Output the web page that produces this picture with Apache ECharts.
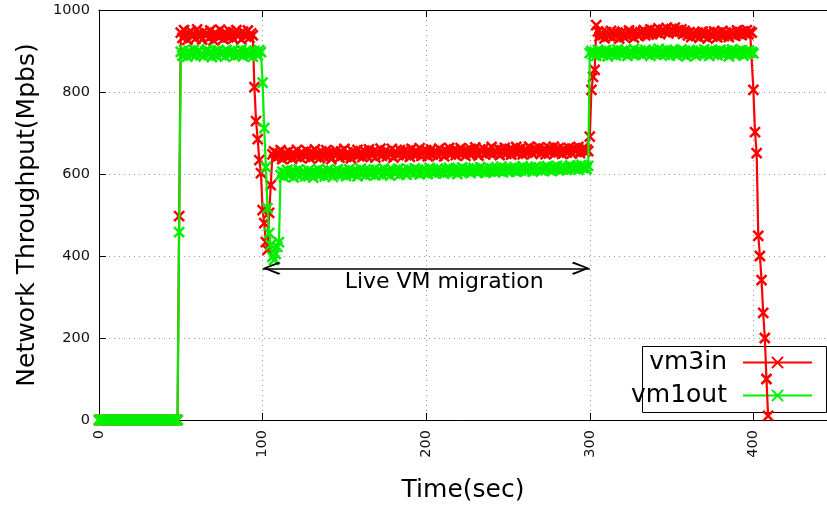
<!DOCTYPE html>
<html>
<head>
<meta charset="utf-8">
<script src="https://cdn.jsdelivr.net/npm/echarts@6/dist/echarts.min.js"></script>
<style>
  html, body { margin: 0; padding: 0; background: #fff; }
  #chart { width: 827px; height: 508px; }
</style>
</head>
<body>
<div id="chart"></div>
<script>
// Throughput samples, one per second starting at t = 0
const SAMPLE_PERIOD = 1;

const vm3in = [
  0, 0, 0, 0, 0, 0, 0, 0, 0, 0, 0, 0, 0, 0, 0, 0, 0, 0, 0, 0,
  0, 0, 0, 0, 0, 0, 0, 0, 0, 0, 0, 0, 0, 0, 0, 0, 0, 0, 0, 0,
  0, 0, 0, 0, 0, 0, 0, 0, 0,
  497,
  945, 932, 951, 938, 927, 944, 949, 935, 940, 930,
  953, 941, 936, 928, 947, 939, 943, 931, 950, 937,
  926, 945, 940, 934, 952, 938, 929, 946, 942, 933,
  948, 937, 930, 944, 951, 936, 941, 928, 947, 939,
  935, 950, 932, 943, 938,
  812, 729, 685, 634, 602, 512, 480, 434, 415, 505, 573,
  648, 655, 639, 651, 644, 658, 636, 647, 652, 641, 656, 645, 637, 650, 643, 659, 646, 640, 653, 648,
  642, 657, 649, 638, 654, 645, 660, 643, 651, 639, 655, 647, 641, 658, 650, 644, 636, 653, 646, 657,
  649, 640, 655, 645, 661, 642, 652, 647, 638, 656, 650, 644, 659, 646, 653, 641, 657, 648, 643, 660,
  651, 645, 656, 640, 654, 649, 662, 644, 650, 657, 643, 653, 647, 661, 640, 655, 650, 646, 658, 652,
  645, 659, 648, 654, 642, 661, 651, 646, 657, 649, 663, 644, 655, 650, 658, 643, 653, 660, 647, 656,
  651, 645, 662, 649, 655, 643, 658, 652, 664, 647, 654, 660, 646, 657, 651, 663, 649, 655, 644, 659,
  653, 661, 648, 656, 665, 650, 645, 658, 654, 662, 647, 655, 660, 651, 666, 649, 657, 653, 661, 646,
  658, 652, 664, 649, 656, 661, 647, 659, 654, 666, 650, 657, 663, 648, 655, 660, 652, 667, 656, 649,
  661, 654, 658, 665, 650, 657, 662, 648, 656, 664, 653, 659, 667, 651, 657, 663, 655, 649, 661, 658,
  652, 664, 657, 650, 662, 655, 659, 666, 651, 658, 663, 654, 660, 656,
  691, 805, 837, 854, 963,
  948, 935, 944, 939, 931, 946, 940, 936, 949, 933, 942, 938, 945, 930, 943, 947, 934, 941, 937, 950,
  939, 944, 932, 948, 941, 936, 946, 943, 951, 938, 945, 940, 953, 942, 947, 950, 944, 955, 941, 949,
  952, 946, 956, 943, 950, 954, 947, 957, 945, 951, 948, 953, 942, 949, 944, 938, 946, 934, 943, 940,
  936, 945, 932, 941, 947, 937, 943, 930, 946, 939, 935, 948, 942, 933, 944, 938, 949, 936, 945, 941,
  934, 947, 940, 944, 937, 950, 942, 946, 939, 948, 943, 951, 941, 947, 945,
  805, 702, 651, 449, 400, 341, 261, 200, 100, 10
];

const vm1out = [
  0, 0, 0, 0, 0, 0, 0, 0, 0, 0, 0, 0, 0, 0, 0, 0, 0, 0, 0, 0,
  0, 0, 0, 0, 0, 0, 0, 0, 0, 0, 0, 0, 0, 0, 0, 0, 0, 0, 0, 0,
  0, 0, 0, 0, 0, 0, 0, 0, 0,
  458,
  898, 889, 902, 893, 886, 900, 895, 891, 903, 888,
  896, 901, 890, 894, 887, 899, 904, 892, 897, 885,
  893, 900, 889, 902, 895, 891, 898, 886, 903, 894,
  890, 897, 901, 888, 895, 899, 892, 904, 887, 896,
  901, 891, 898, 893, 886, 900, 895, 889, 902, 897,
  823, 712, 617, 517, 456, 427, 398, 390, 405, 422, 434,
  598, 606, 593, 603, 610, 596, 601, 608, 592, 605, 599, 611, 595, 603, 607, 594, 600, 609, 597, 604,
  591, 606, 600, 612, 596, 603, 608, 594, 601, 610, 598, 605, 593, 607, 602, 611, 597, 604, 599, 609,
  595, 603, 612, 598, 606, 601, 609, 594, 604, 613, 600, 607, 596, 605, 610, 599, 603, 611, 597, 606,
  602, 609, 598, 614, 604, 600, 608, 596, 611, 605, 601, 607, 613, 599, 606, 610, 603, 598, 612, 605,
  608, 601, 614, 604, 610, 599, 607, 612, 603, 609, 600, 615, 605, 611, 602, 608, 613, 604, 610, 606,
  601, 612, 607, 615, 603, 609, 605, 614, 600, 611, 606, 616, 604, 610, 608, 613, 602, 609, 615, 607,
  611, 604, 616, 608, 612, 603, 610, 617, 606, 613, 609, 605, 615, 611, 607, 618, 604, 612, 609, 614,
  606, 613, 610, 617, 605, 611, 615, 608, 619, 612, 607, 614, 610, 616, 606, 613, 618, 609, 615, 611,
  608, 616, 612, 619, 610, 614, 607, 617, 613, 620, 609, 615, 611, 618, 614, 610, 616, 621, 612, 617,
  613, 619, 610, 616, 622, 614, 618, 612, 620,
  895,
  900, 892, 897, 888, 903, 894, 899, 890, 896, 902,
  887, 898, 893, 901, 895, 889, 904, 897, 891, 899,
  894, 902, 888, 896, 900, 893, 905, 891, 898, 895,
  901, 890, 897, 903, 894, 899, 888, 896, 902, 892,
  898, 905, 893, 900, 895, 891, 903, 897, 889, 901,
  896, 902, 890, 898, 894, 904, 892, 899, 887, 897,
  903, 893, 900, 896, 889, 901, 895, 898, 891, 904,
  894, 899, 888, 902, 896, 893, 900, 890, 897, 903,
  891, 898, 895, 901, 887, 896, 904, 893, 899, 892,
  900, 895, 902, 889, 897, 893, 901, 896, 898, 894
];

const xTickLabels = [0, 100, 200, 300, 400];
const yTickLabels = [0, 200, 400, 600, 800, 1000];

// Migration window annotation
const migrationStart = 100;
const migrationEnd = 300;
const migrationLevel = 370;
const migrationText = 'Live VM migration';

const FONT = 'DejaVu Sans';
const RED = '#ff0000';
const GREEN = '#00f000';
const CROSS = 'path://M0,0L10,10M10,0L0,10';
const CHEVRON = 'path://M5,0L10,9L8.9,10L5,2.4L1.1,10L0,9Z';

const toPoints = arr => arr.map((v, i) => [i * SAMPLE_PERIOD, v]);

const gridLine = { show: true, lineStyle: { color: '#9a9a9a', type: [1, 4], width: 1 } };

const chart = echarts.init(document.getElementById('chart'), null, { renderer: 'canvas' });

chart.setOption({
  animation: false,
  backgroundColor: '#fff',
  grid: { left: 99, right: 0, top: 10, bottom: 88, containLabel: false },
  xAxis: [
    {
      type: 'value', min: 0, max: 445, interval: 100, position: 'bottom',
      axisLine: { show: true, onZero: false, lineStyle: { color: '#000', width: 1 } },
      axisTick: { show: true, inside: true, length: 7, lineStyle: { color: '#000' } },
      axisLabel: {
        rotate: 90, margin: 10, fontSize: 14.5, fontFamily: FONT, color: '#111',
        showMaxLabel: false,
        formatter: v => (xTickLabels.includes(v) ? String(v) : '')
      },
      splitLine: gridLine,
      name: 'Time(sec)', nameLocation: 'middle', nameGap: 58,
      nameTextStyle: { fontSize: 25, fontFamily: FONT, color: '#000' }
    },
    {
      type: 'value', min: 0, max: 445, interval: 100, position: 'top',
      axisLine: { show: true, onZero: false, lineStyle: { color: '#000', width: 1 } },
      axisTick: { show: true, inside: true, length: 7, lineStyle: { color: '#000' } },
      axisLabel: { show: false },
      splitLine: { show: false }
    }
  ],
  yAxis: {
    type: 'value', min: 0, max: 1000, interval: 200,
    axisLine: { show: true, onZero: false, lineStyle: { color: '#000', width: 1 } },
    axisTick: { show: true, inside: true, length: 7, lineStyle: { color: '#000' } },
    axisLabel: {
      margin: 9, fontSize: 14.5, fontFamily: FONT, color: '#111',
      formatter: v => (yTickLabels.includes(v) ? String(v) : '')
    },
    splitLine: gridLine,
    name: 'Network Throughput(Mpbs)', nameLocation: 'middle', nameGap: 59,
    nameTextStyle: { fontSize: 25, fontFamily: FONT, color: '#000' }
  },
  legend: {
    orient: 'vertical', right: 14, top: 350, align: 'right', padding: 0,
    itemGap: 8, itemWidth: 69, itemHeight: 14, selectedMode: false, z: 1.5,
    textStyle: { fontFamily: FONT, fontSize: 25, color: '#000', lineHeight: 25, padding: [0, 11, 0, 0] },
    data: ['vm3in', 'vm1out']
  },
  graphic: [
    {
      type: 'rect', left: 642, top: 346, z: 1, silent: true,
      shape: { width: 184, height: 66 },
      style: { fill: '#fff', stroke: '#000', lineWidth: 1 }
    }
  ],
  series: [
    {
      name: 'vm3in', type: 'line', xAxisIndex: 0, z: 3,
      data: toPoints(vm3in),
      symbol: CROSS, symbolSize: 10, showSymbol: true,
      lineStyle: { color: RED, width: 2.2 },
      itemStyle: { color: RED, borderColor: RED, borderWidth: 2.5 },
      emphasis: { disabled: true },
      markLine: {
        silent: true,
        symbol: [CHEVRON, CHEVRON], symbolSize: [13, 18], symbolOffset: [[0, 9], [0, 9]],
        lineStyle: { color: '#000', width: 1.5, type: 'solid' },
        label: {
          show: true, position: 'insideMiddleBottom', distance: 3, offset: [18, 0],
          formatter: migrationText, color: '#000', fontSize: 22, fontFamily: FONT
        },
        emphasis: { disabled: true },
        data: [[{ coord: [migrationStart, migrationLevel] }, { coord: [migrationEnd, migrationLevel] }]]
      }
    },
    {
      name: 'vm1out', type: 'line', xAxisIndex: 0, z: 4,
      data: toPoints(vm1out),
      symbol: CROSS, symbolSize: 10, showSymbol: true,
      lineStyle: { color: GREEN, width: 2.2 },
      itemStyle: { color: GREEN, borderColor: GREEN, borderWidth: 2.5 },
      emphasis: { disabled: true }
    }
  ]
});
</script>
</body>
</html>
